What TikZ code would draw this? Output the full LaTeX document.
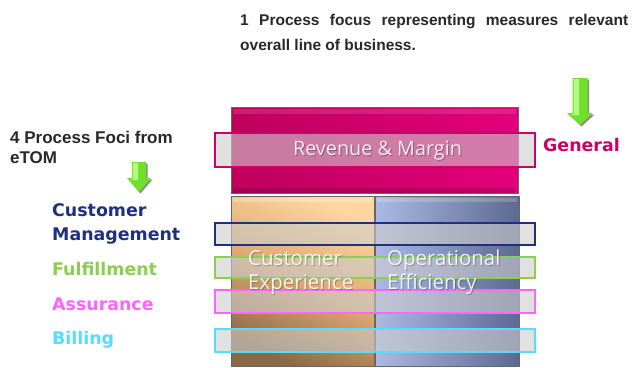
\documentclass[tikz,border=0pt]{standalone}
\usepackage{fontspec}
\setmainfont{Liberation Sans}
\newfontfamily\dejab{DejaVu Sans}
\newfontfamily\boxfont{Open Sans}
\definecolor{magA}{RGB}{190,0,92}
\definecolor{magB}{RGB}{226,0,122}
\definecolor{orgT}{RGB}{255,214,158}
\definecolor{orgM}{RGB}{222,170,115}
\definecolor{orgB}{RGB}{140,104,72}
\definecolor{bluL}{RGB}{170,186,226}
\definecolor{bluR}{RGB}{92,106,146}
\definecolor{bandgray}{RGB}{205,205,205}
\definecolor{cmag}{RGB}{204,0,102}
\definecolor{cnavy}{RGB}{30,48,128}
\definecolor{cgreen}{RGB}{140,206,80}
\definecolor{cpink}{RGB}{255,100,255}
\definecolor{ccyan}{RGB}{85,220,255}
\definecolor{arrL}{RGB}{200,255,150}
\definecolor{arrM}{RGB}{110,225,40}
\definecolor{txtgray}{RGB}{40,40,40}
\tikzset{
  band/.style={fill=bandgray, fill opacity=0.6, line width=2pt},
  boxedge/.style={draw=black!60, line width=0.6pt},
  focus/.style={anchor=base west, inner sep=0pt, font=\dejab\bfseries\fontsize{17.4}{20}\selectfont},
  note/.style={anchor=base west, inner sep=0pt, text=txtgray, font=\bfseries\fontsize{15.5}{18}\selectfont},
  note2/.style={anchor=base west, inner sep=0pt, text=txtgray, font=\bfseries\fontsize{17}{20}\selectfont},
  boxtxt/.style={anchor=base west, inner sep=0pt, text=white, opacity=0.9, font=\boxfont\fontsize{20.5}{24}\selectfont},
  boxshadow/.style={anchor=base west, inner sep=0pt, text=black, opacity=0.25, font=\boxfont\fontsize{20.5}{24}\selectfont},
}
\begin{document}
\begin{tikzpicture}[x=1pt,y=-1pt]
\useasboundingbox (0,0) rectangle (632,367);
\fill[white] (0,0) rectangle (632,367);

% --- boxes
\shade[left color=magA, right color=magB] (231,107) rectangle (518,193);
\fill[white, opacity=0.12] (233,109) rectangle (516,114);
\fill[black, opacity=0.15] (233,188) rectangle (516,193);
\draw[boxedge] (231,107) rectangle (518,193);

\shade[top color=orgT, bottom color=orgB, middle color=orgM, shading angle=-25] (231,196) rectangle (374,366);
\fill[white, opacity=0.25] (233,198) rectangle (372,202);
\draw[boxedge] (231,196) rectangle (374,366);

\shade[left color=bluL, right color=bluR] (375,196) rectangle (519,366);
\fill[white, opacity=0.2] (377,198) rectangle (517,202);
\draw[boxedge] (375,196) rectangle (519,366);

% --- bands
\draw[band, draw=cmag] (215,133) rectangle (535,167);
\draw[band, draw=cnavy] (215,223) rectangle (535,245);
\draw[band, draw=cgreen] (215,257) rectangle (535,278);
\draw[band, draw=cpink] (215,290) rectangle (535,313);
\draw[band, draw=ccyan] (215,329) rectangle (535,352);

% --- box texts
\node[boxshadow] at (249,266) {Customer};
\node[boxtxt] (cx1) at (248,265) {Customer};
\node[boxshadow] at (249,290) {Experience};
\node[boxtxt] (cx2) at (248,289) {Experience};
\node[boxshadow] at (388,266) {Operational};
\node[boxtxt] (oe1) at (387,265) {Operational};
\node[boxshadow] at (388,290) {Efficiency};
\node[boxtxt] (oe2) at (387,289) {Efficiency};

\node[anchor=base, inner sep=0pt, text=black, opacity=0.3, font=\boxfont\fontsize{19.8}{22}\selectfont] at (378.5,156) {Revenue \& Margin};
\node[anchor=base, inner sep=0pt, text=white!92!magB, font=\boxfont\fontsize{19.8}{22}\selectfont] (revt) at (377.5,155) {Revenue \& Margin};

% --- green arrows
\foreach \cx/\st/\ht/\tp/\sh/\hh in {139/162/178/192/7/12, 580/78/113/125/7.5/13}{
  \fill[black, opacity=0.45] (\cx-\sh+1.5,\st+1.5) -- (\cx+\sh+1.5,\st+1.5) -- (\cx+\sh+1.5,\ht+1.5) -- (\cx+\hh+1.5,\ht+1.5) -- (\cx+1.5,\tp+1.5) -- (\cx-\hh+1.5,\ht+1.5) -- (\cx-\sh+1.5,\ht+1.5) -- cycle;
  \fill[arrM] (\cx-\sh,\st) -- (\cx+\sh,\st) -- (\cx+\sh,\ht) -- (\cx+\hh,\ht) -- (\cx,\tp) -- (\cx-\hh,\ht) -- (\cx-\sh,\ht) -- cycle;
  \fill[arrL, opacity=0.8] (\cx-\sh+1,\st+1) -- (\cx-1,\st+1) -- (\cx-1,\ht+2) -- (\cx-\hh+3,\ht+2) -- (\cx-\sh+1,\ht+1) -- cycle;
}

% --- texts
\node[note] (t1) at (240,25) {\makebox[388pt][s]{1 Process focus representing measures relevant}};
\node[note] (t2) at (240,50) {overall line of business.};

\node[note2] (l1) at (10,143) {4 Process Foci from};
\node[note2] (l2) at (10,163) {eTOM};

\node[focus, text=cnavy] (cm1) at (52,216) {Customer};
\node[focus, text=cnavy] (cm2) at (52,240) {Management};
\node[focus, text=cgreen] (ff) at (52,275) {Fulfillment};
\node[focus, text=cpink] (as) at (52,310) {Assurance};
\node[focus, text=ccyan] (bi) at (52,344) {Billing};
\node[focus, text=cmag] (ge) at (543,151) {General};
\end{tikzpicture}
\end{document}
